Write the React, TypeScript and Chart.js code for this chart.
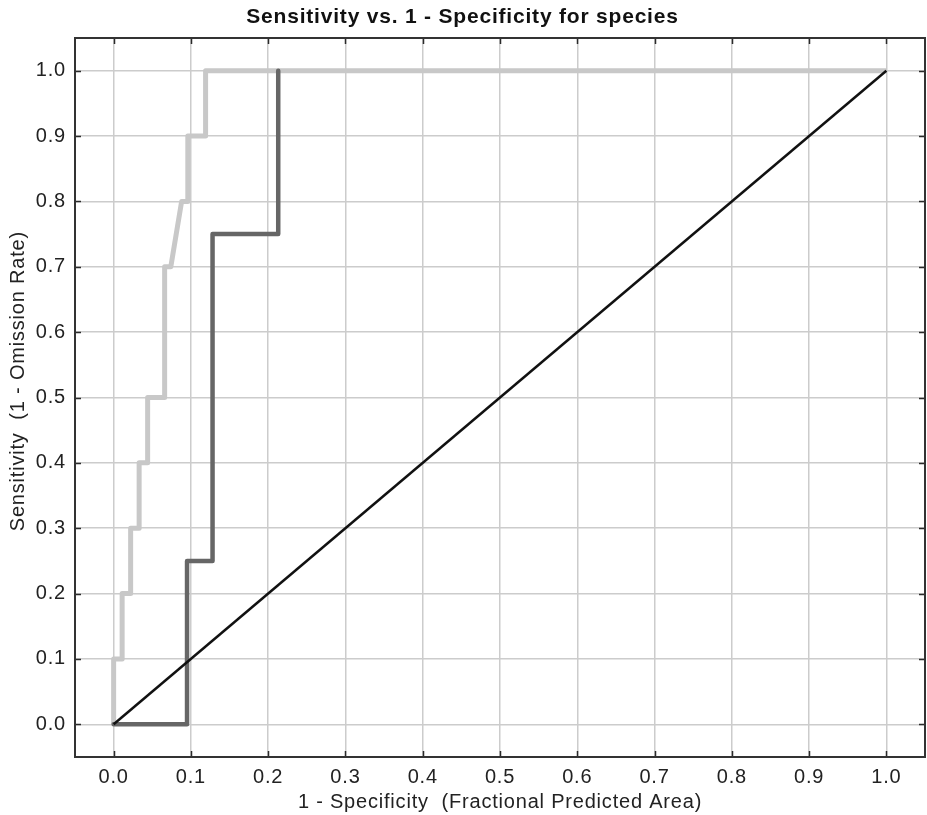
import React, { useEffect, useRef } from 'react';
import { Chart, registerables } from 'chart.js';

Chart.register(...registerables);

const titleText = 'Sensitivity vs. 1 - Specificity for species';
const xAxisTitle = '1 - Specificity  (Fractional Predicted Area)';
const yAxisTitle = 'Sensitivity  (1 - Omission Rate)';

const tickValues = [0, 0.1, 0.2, 0.3, 0.4, 0.5, 0.6, 0.7, 0.8, 0.9, 1.0];
const tickLabels = ['0.0', '0.1', '0.2', '0.3', '0.4', '0.5', '0.6', '0.7', '0.8', '0.9', '1.0'];

// light gray ROC curve
const lightX = [0, 0, 0.011, 0.011, 0.022, 0.022, 0.033, 0.033, 0.044, 0.044, 0.066, 0.066, 0.074, 0.088, 0.096, 0.096, 0.119, 0.119, 1.0];
const lightY = [0, 0.1, 0.1, 0.2, 0.2, 0.3, 0.3, 0.4, 0.4, 0.5, 0.5, 0.7, 0.7, 0.8, 0.8, 0.9, 0.9, 1.0, 1.0];

// dark gray ROC curve
const darkX = [0, 0.095, 0.095, 0.128, 0.128, 0.213, 0.213];
const darkY = [0, 0, 0.25, 0.25, 0.75, 0.75, 1.0];

// random prediction diagonal
const diagX = [0, 1];
const diagY = [0, 1];

const FONT = '"Liberation Sans", Arial, Helvetica, sans-serif';

const toPoints = (xs: number[], ys: number[]) => xs.map((x, i) => ({ x, y: ys[i] }));

const setSpacing = (ctx: any, v: string) => {
  try {
    ctx.letterSpacing = v;
  } catch (e) {
    /* ignore */
  }
};

const framePlugin = {
  id: 'frameTicks',
  beforeDraw(chart: any) {
    setSpacing(chart.ctx, '0.8px');
  },
  beforeDatasetsDraw(chart: any) {
    setSpacing(chart.ctx, '0px');
  },
  afterDraw(chart: any) {
    const { ctx, chartArea } = chart;
    const { left, right, top, bottom } = chartArea;
    const xs = chart.scales.x;
    const ys = chart.scales.y;
    ctx.save();
    ctx.strokeStyle = '#2a2a2a';
    ctx.lineWidth = 1.5;
    ctx.beginPath();
    tickValues.forEach((v) => {
      const px = Math.round(xs.getPixelForValue(v)) + 0.5;
      ctx.moveTo(px, top);
      ctx.lineTo(px, top + 6);
      ctx.moveTo(px, bottom);
      ctx.lineTo(px, bottom - 6);
      const py = Math.round(ys.getPixelForValue(v)) + 0.5;
      ctx.moveTo(left, py);
      ctx.lineTo(left + 6, py);
      ctx.moveTo(right, py);
      ctx.lineTo(right - 6, py);
    });
    ctx.stroke();
    ctx.lineWidth = 2;
    ctx.strokeStyle = '#333';
    ctx.strokeRect(left, top, right - left, bottom - top);

    // y-axis title, placed slightly above the plot's vertical centre as in the source
    setSpacing(ctx, '0.8px');
    const cy = ys.getPixelForValue(0.525);
    ctx.translate(18, cy);
    ctx.rotate(-Math.PI / 2);
    ctx.font = `20px ${FONT}`;
    ctx.fillStyle = '#222';
    ctx.textAlign = 'center';
    ctx.textBaseline = 'middle';
    ctx.fillText(yAxisTitle, 0, 0);
    ctx.restore();
  },
};

export default function App() {
  const ref = useRef<HTMLCanvasElement | null>(null);

  useEffect(() => {
    if (!ref.current) return;
    const chart = new Chart(ref.current, {
      type: 'line',
      data: {
        datasets: [
          {
            data: toPoints(diagX, diagY),
            borderColor: '#111111',
            borderWidth: 2.5,
            pointRadius: 0,
            tension: 0,
          },
          {
            data: toPoints(darkX, darkY),
            borderColor: '#666666',
            borderWidth: 4.5,
            pointRadius: 0,
            tension: 0,
            borderJoinStyle: 'round',
            borderCapStyle: 'round',
          },
          {
            data: toPoints(lightX, lightY),
            borderColor: '#c8c8c8',
            borderWidth: 5,
            pointRadius: 0,
            tension: 0,
            borderJoinStyle: 'round',
          },
        ],
      },
      options: {
        animation: false,
        responsive: false,
        devicePixelRatio: 1,
        layout: { padding: { left: 0, right: 2, top: 0, bottom: 0 } },
        plugins: {
          legend: { display: false },
          tooltip: { enabled: false },
          title: {
            display: true,
            text: titleText,
            color: '#111',
            font: { family: FONT, size: 21, weight: 'bold' },
            padding: { top: 5, bottom: 7.8 },
          },
        },
        scales: {
          x: {
            type: 'linear',
            min: -0.05,
            max: 1.05,
            afterBuildTicks: (scale: any) => {
              scale.ticks = tickValues.map((v) => ({ value: v }));
            },
            afterFit: (scale: any) => {
              scale.height = 58;
            },
            grid: { color: '#cccccc', lineWidth: 1.5, drawTicks: false },
            border: { display: false },
            ticks: {
              autoSkip: false,
              maxRotation: 0,
              padding: 8,
              color: '#222',
              font: { family: FONT, size: 20 },
              callback: (_v: any, i: number) => tickLabels[i],
            },
            title: {
              display: true,
              text: xAxisTitle,
              color: '#222',
              font: { family: FONT, size: 20 },
              padding: { top: 0, bottom: 1 },
            },
          },
          y: {
            type: 'linear',
            min: -0.05,
            max: 1.05,
            afterBuildTicks: (scale: any) => {
              scale.ticks = tickValues.map((v) => ({ value: v }));
            },
            afterFit: (scale: any) => {
              scale.width = 75;
            },
            grid: { color: '#cccccc', lineWidth: 1.5, drawTicks: false },
            border: { display: false },
            ticks: {
              autoSkip: false,
              padding: 9,
              color: '#222',
              font: { family: FONT, size: 20 },
              callback: (_v: any, i: number) => tickLabels[i],
            },
            title: { display: false },
          },
        },
      },
      plugins: [framePlugin],
    } as any);
    return () => chart.destroy();
  }, []);

  return (
    <div style={{ position: 'fixed', left: 0, top: 0, width: 927, height: 815, background: '#fff' }}>
      <canvas ref={ref} width={927} height={815} style={{ display: 'block', width: 927, height: 815 }} />
    </div>
  );
}
